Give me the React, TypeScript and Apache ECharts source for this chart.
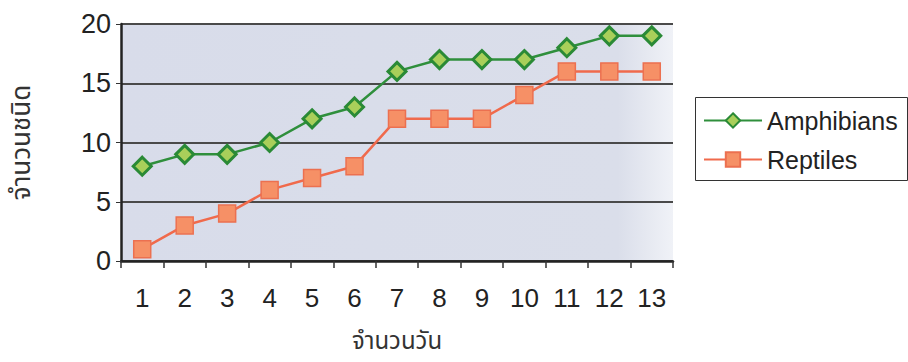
import React, { useEffect, useRef } from "react";
import * as echarts from "echarts";

const days = ["1", "2", "3", "4", "5", "6", "7", "8", "9", "10", "11", "12", "13"];
const amphibians = [8, 9, 9, 10, 12, 13, 16, 17, 17, 17, 18, 19, 19];
const reptiles = [1, 3, 4, 6, 7, 8, 12, 12, 12, 14, 16, 16, 16];
const seriesNames = ["Amphibians", "Reptiles"];
const xTitle = "จำนวนวัน";
const yTitle = "จำนวนชนิด";

const numFont = "'Liberation Sans', Arial, sans-serif";
const thaiFont = "'Noto Sans Thai', Tahoma, 'DejaVu Sans', serif";

export default function App() {
  const ref = useRef<HTMLDivElement>(null);
  useEffect(() => {
    if (!ref.current) return;
    document.body.style.margin = "0";
    document.body.style.overflow = "hidden";
    const chart = echarts.init(ref.current, null, { renderer: "svg" });
    chart.setOption({
      animation: false,
      backgroundColor: "#ffffff",
      grid: {
        left: 121,
        right: 235,
        top: 24,
        bottom: 101,
        show: true,
        borderWidth: 0,
        backgroundColor: new echarts.graphic.LinearGradient(0, 0, 1, 0, [
          { offset: 0, color: "#d8dcea" },
          { offset: 0.9, color: "#dadeea" },
          { offset: 1, color: "#f0f2f7" },
        ]),
      },
      legend: {
        orient: "vertical",
        left: 703,
        top: 108,
        itemWidth: 58,
        itemHeight: 18,
        itemGap: 14,
        padding: 0,
        textStyle: { fontFamily: numFont, fontSize: 25, color: "#222" },
        data: seriesNames,
      },
      graphic: [
        {
          type: "rect",
          shape: { x: 695.5, y: 97.5, width: 212, height: 83 },
          style: { fill: "none", stroke: "#333", lineWidth: 1 },
        },
      ],
      xAxis: {
        type: "category",
        data: days,
        boundaryGap: true,
        name: xTitle,
        nameLocation: "middle",
        nameGap: 68,
        nameTextStyle: { fontFamily: thaiFont, fontSize: 24, color: "#333", lineHeight: 26 },
        axisLine: { lineStyle: { color: "#222", width: 2.5 } },
        axisTick: { show: true, inside: false, length: 7, lineStyle: { color: "#333", width: 1.5 } },
        axisLabel: { fontFamily: numFont, fontSize: 26, color: "#222", margin: 24 },
        splitLine: { show: false },
      },
      yAxis: {
        type: "value",
        min: 0,
        max: 20,
        interval: 5,
        name: yTitle,
        nameLocation: "middle",
        nameGap: 86,
        nameTextStyle: { fontFamily: thaiFont, fontSize: 26, color: "#333" },
        axisLine: { show: true, lineStyle: { color: "#222", width: 2.5 } },
        axisTick: { show: true, length: 5, lineStyle: { color: "#333" } },
        axisLabel: { fontFamily: numFont, fontSize: 27, color: "#222", margin: 10 },
        splitLine: { show: true, lineStyle: { color: "#4a4a4a", width: 2 } },
      },
      series: [
        {
          name: seriesNames[0],
          type: "line",
          data: amphibians,
          symbol: "diamond",
          symbolSize: 18,
          lineStyle: { color: "#2f8f3c", width: 2.5 },
          itemStyle: { color: "#a9cf5a", borderColor: "#2a8a36", borderWidth: 3 },
        },
        {
          name: seriesNames[1],
          type: "line",
          data: reptiles,
          symbol: "rect",
          symbolSize: 17,
          lineStyle: { color: "#f06a4c", width: 2.5 },
          itemStyle: { color: "#f69066", borderColor: "#ec7050", borderWidth: 1.5 },
        },
      ],
    });
    return () => chart.dispose();
  }, []);
  return (
    <div
      ref={ref}
      style={{ width: 908, height: 362, position: "absolute", left: 0, top: 0, overflow: "hidden" }}
    />
  );
}
